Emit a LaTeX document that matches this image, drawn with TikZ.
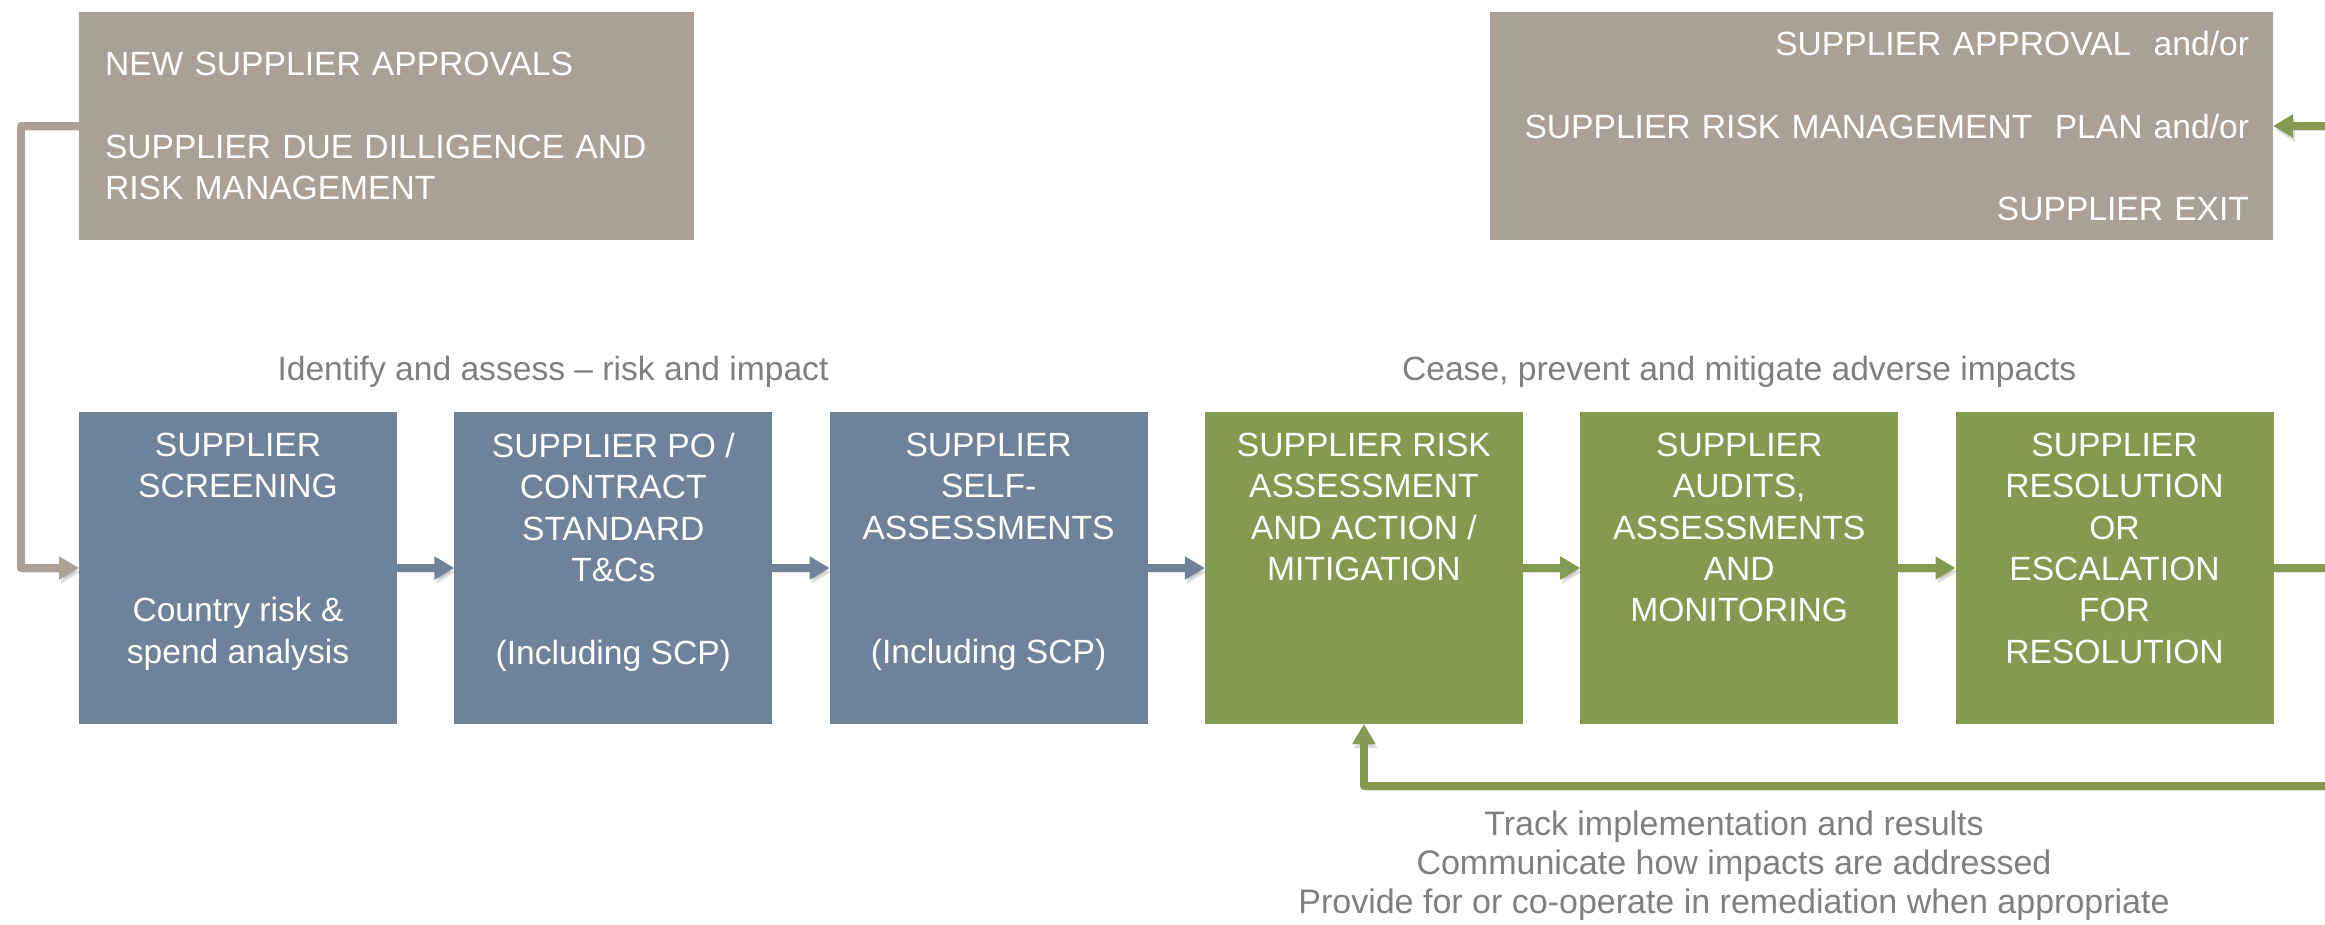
\documentclass[tikz,border=0pt]{standalone}
\usepackage{fontspec}
\setmainfont{Liberation Sans}
\usetikzlibrary{arrows.meta}
\definecolor{ctan}{HTML}{AAA096}
\definecolor{cblue}{HTML}{6E8399}
\definecolor{cgreen}{HTML}{859A50}
\definecolor{clabel}{HTML}{7F7F7F}
\begin{document}
\begin{tikzpicture}[x=1pt,y=-1pt,
  font=\fontsize{33.6}{41.3}\selectfont,
  procbox/.style={rectangle, minimum width=318pt, minimum height=312pt, inner sep=0pt, outer sep=0pt},
  proctext/.style={anchor=north, align=center, text=white, inner sep=0pt},
  topbox/.style={rectangle, fill=ctan, minimum height=228pt, inner ysep=0pt, outer sep=0pt, text=white},
  lbl/.style={text=clabel, inner sep=0pt},
  shadowed/.style={preaction={draw=black, opacity=0.12, transform canvas={shift={(2pt,-4pt)}}}},
  flowarrow/.style={line width=8pt, line join=round, shadowed, -{Triangle[length=20pt,width=22pt]}},
  flowline/.style={line width=8pt, line join=round, shadowed}
]
\useasboundingbox (0,0) rectangle (2325,924);

% top boxes
\node[topbox, text width=563pt, inner xsep=26pt, align=left] (tl) at (386.5,126)
  {NEW SUPPLIER APPROVALS\\\mbox{}\\SUPPLIER DUE DILLIGENCE AND\\RISK MANAGEMENT};
\node[topbox, text width=735pt, inner xsep=24pt, align=right] (tr) at (1881.5,126)
  {SUPPLIER APPROVAL\ \ and/or\\\mbox{}\\SUPPLIER RISK MANAGEMENT\ \ PLAN and/or\\\mbox{}\\SUPPLIER EXIT};

% process boxes
\node[procbox, fill=cblue] (b1) at (238,568) {};
\node[procbox, fill=cblue] (b2) at (613.3,568) {};
\node[procbox, fill=cblue] (b3) at (988.6,568) {};
\node[procbox, fill=cgreen] (b4) at (1363.9,568) {};
\node[procbox, fill=cgreen] (b5) at (1739.2,568) {};
\node[procbox, fill=cgreen] (b6) at (2114.5,568) {};

\node[proctext] (t1) at ([yshift=-21pt]b1.north) {SUPPLIER\\SCREENING\\\mbox{}\\\mbox{}\\Country risk \&\\spend analysis};
\node[proctext] (t2) at ([yshift=-21pt]b2.north) {SUPPLIER PO /\\CONTRACT\\STANDARD\\T\&Cs\\\mbox{}\\(Including SCP)};
\node[proctext] (t3) at ([yshift=-21pt]b3.north) {SUPPLIER\\SELF-\\ASSESSMENTS\\\mbox{}\\\mbox{}\\(Including SCP)};
\node[proctext] (t4) at ([yshift=-21pt]b4.north) {SUPPLIER RISK\\ASSESSMENT\\AND ACTION /\\MITIGATION};
\node[proctext] (t5) at ([yshift=-21pt]b5.north) {SUPPLIER\\AUDITS,\\ASSESSMENTS\\AND\\MONITORING};
\node[proctext] (t6) at ([yshift=-21pt]b6.north) {SUPPLIER\\RESOLUTION\\OR\\ESCALATION\\FOR\\RESOLUTION};

% labels
\node[lbl, anchor=base] (lab1) at (553,380) {Identify and assess – risk and impact};
\node[lbl, anchor=base] (lab2) at (1739.2,380) {Cease, prevent and mitigate adverse impacts};
\node[lbl, anchor=north, align=center, font=\fontsize{34}{39}\selectfont] (note) at (1734,810.5)
  {Track implementation and results\\Communicate how impacts are addressed\\Provide for or co-operate in remediation when appropriate};

% helper coordinates
\coordinate (gx) at (20.5,0);
\coordinate (re1) at (2325,126);
\coordinate (re2) at (2325,568);
\coordinate (re3) at (2325,786);

% connectors
\draw[flowarrow, ctan] (tl.west) -- (tl.west -| gx) -- (gx |- b1.west) -- (b1.west);
\draw[flowarrow, cblue] (b1.east) -- (b2.west);
\draw[flowarrow, cblue] (b2.east) -- (b3.west);
\draw[flowarrow, cblue] (b3.east) -- (b4.west);
\draw[flowarrow, cgreen] (b4.east) -- (b5.west);
\draw[flowarrow, cgreen] (b5.east) -- (b6.west);
\draw[flowline, cgreen] (b6.east) -- (re2);
\draw[flowarrow, cgreen] (re1) -- (tr.east);
\draw[flowarrow, cgreen] (re3) -- (re3 -| b4.south) -- (b4.south);
\end{tikzpicture}
\end{document}
